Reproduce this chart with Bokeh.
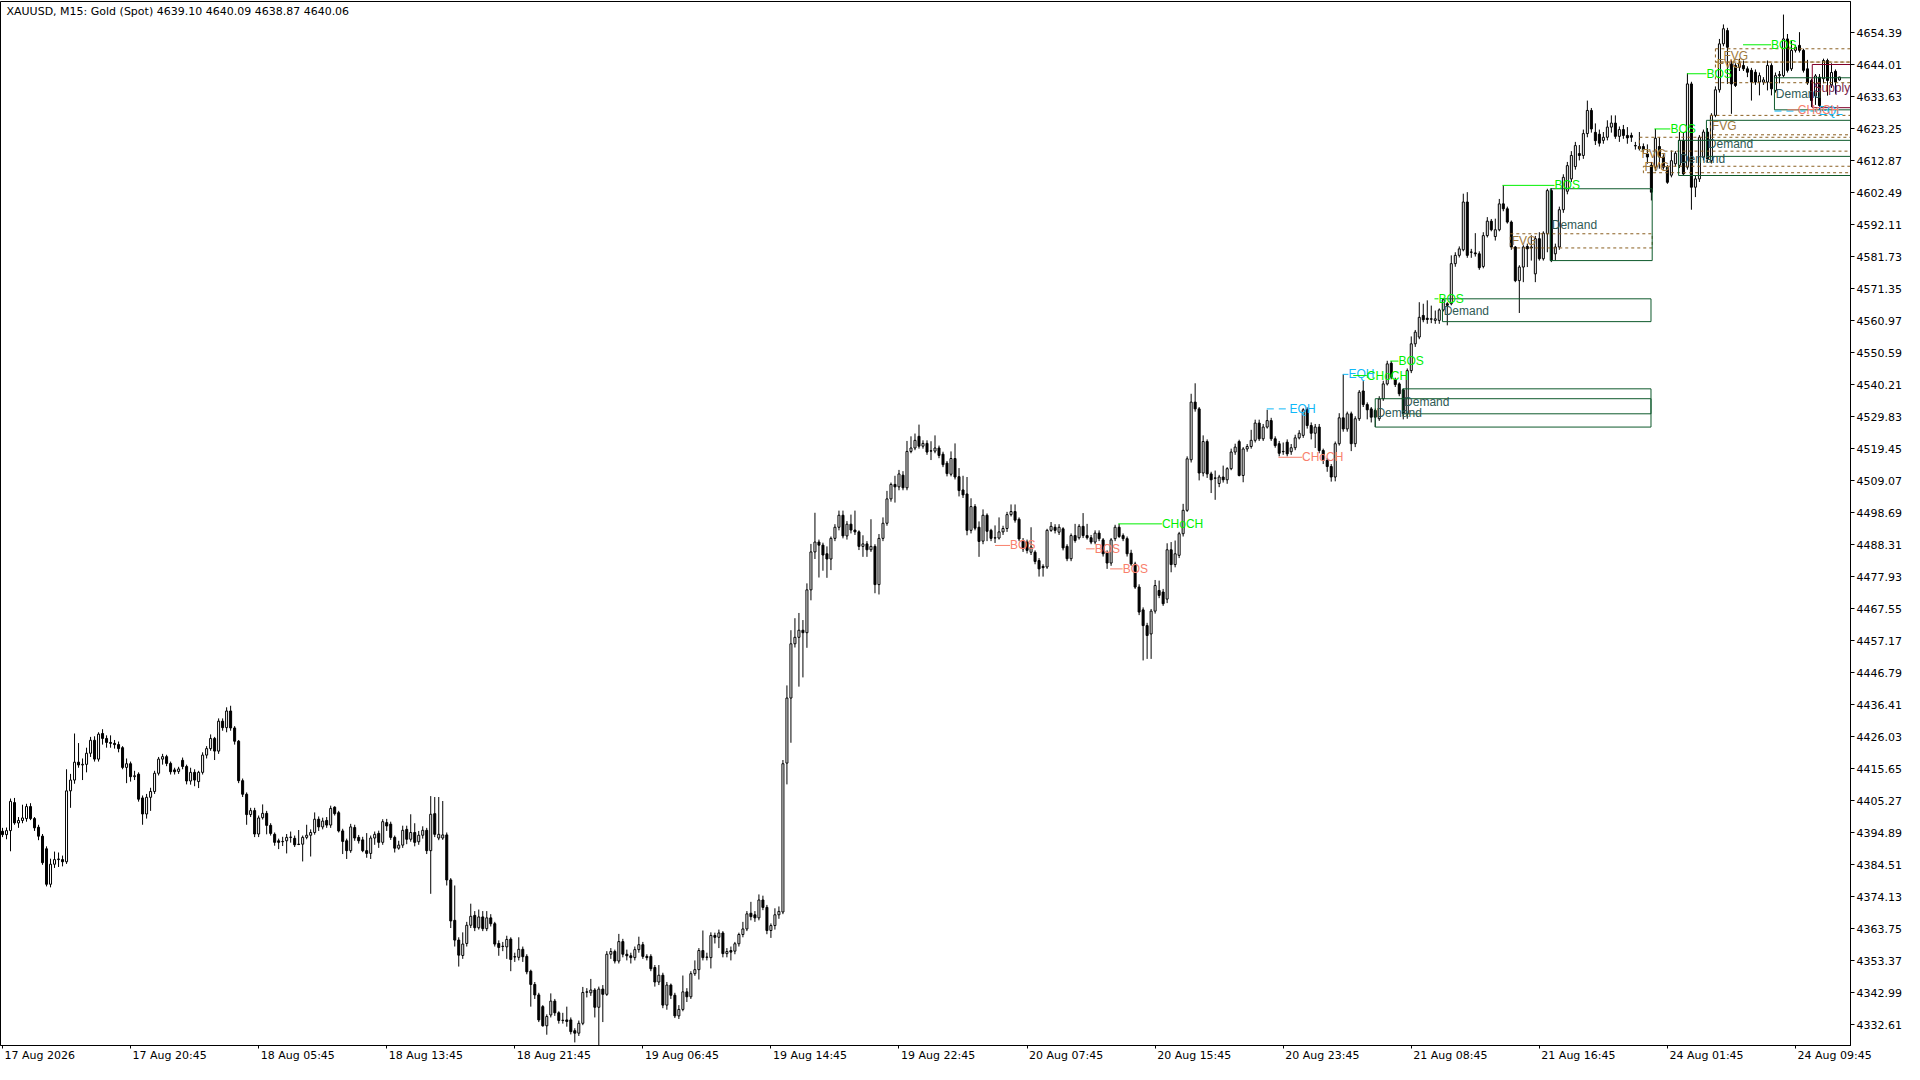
from bokeh.plotting import figure
from bokeh.models import ColumnDataSource, Range1d, FixedTicker, PrintfTickFormatter, CustomJSTickFormatter
from bokeh.core.properties import value
from bokeh.embed import file_html
from bokeh.resources import INLINE

# ---------------- data (XAUUSD M15, bar index 0..459) ----------------
opens = [
4395.4, 4394.3, 4395.6, 4404.7, 4398.1, 4398.9, 4399.5, 4403.4, 4399.5, 4396.7,
4393.8, 4389.7, 4378.2, 4384.7, 4386.2, 4386.2, 4385.5, 4408.5, 4412.0, 4417.8,
4416.9, 4417.1, 4420.7, 4424.9, 4418.8, 4427.1, 4425.5, 4424.2, 4423.9, 4423.5,
4422.5, 4416.1, 4417.3, 4413.1, 4413.9, 4406.2, 4401.0, 4406.4, 4408.3, 4414.2,
4418.8, 4419.6, 4417.4, 4415.3, 4414.8, 4418.4, 4416.4, 4411.7, 4414.5, 4411.5,
4414.5, 4420.1, 4422.2, 4425.5, 4421.4, 4431.1, 4429.0, 4434.4, 4428.9, 4424.6,
4411.8, 4407.4, 4400.8, 4402.1, 4394.5, 4399.8, 4401.2, 4397.3, 4394.4, 4392.3,
4392.0, 4392.3, 4393.4, 4393.1, 4391.2, 4391.2, 4393.4, 4394.1, 4395.0, 4399.3,
4396.8, 4398.9, 4397.4, 4403.2, 4401.4, 4395.5, 4392.3, 4389.1, 4396.6, 4393.4,
4392.6, 4389.1, 4388.2, 4393.2, 4394.7, 4391.8, 4398.2, 4397.7, 4393.4, 4389.9,
4390.9, 4396.0, 4392.8, 4395.0, 4392.0, 4394.1, 4395.7, 4389.1, 4401.1, 4393.2,
4393.2, 4394.2, 4379.6, 4366.5, 4360.1, 4355.1, 4359.0, 4364.9, 4368.1, 4364.1,
4367.6, 4363.8, 4367.3, 4365.4, 4359.0, 4358.1, 4357.9, 4360.4, 4354.7, 4354.5,
4357.1, 4354.8, 4350.0, 4345.7, 4342.3, 4338.5, 4332.3, 4335.8, 4340.3, 4336.5,
4334.0, 4334.2, 4334.2, 4330.7, 4329.9, 4333.1, 4343.3, 4343.0, 4343.9, 4338.3,
4344.2, 4342.5, 4355.5, 4356.4, 4353.3, 4359.6, 4355.5, 4355.0, 4354.4, 4357.0,
4358.6, 4354.8, 4354.8, 4351.2, 4346.5, 4348.7, 4339.0, 4345.5, 4342.2, 4335.5,
4337.6, 4343.3, 4341.7, 4349.2, 4350.5, 4356.7, 4354.5, 4354.4, 4361.6, 4361.0,
4362.4, 4355.7, 4356.7, 4356.5, 4358.9, 4361.9, 4363.7, 4368.8, 4368.3, 4367.3,
4373.1, 4370.7, 4363.2, 4364.8, 4368.3, 4369.2, 4417.5, 4438.6, 4456.2, 4458.3,
4460.6, 4459.8, 4473.7, 4486.0, 4489.2, 4488.2, 4485.4, 4483.7, 4490.4, 4494.0,
4497.9, 4491.2, 4495.0, 4493.1, 4492.5, 4487.8, 4488.6, 4486.7, 4487.8, 4475.4,
4490.4, 4495.3, 4503.2, 4507.9, 4507.1, 4510.9, 4506.8, 4518.6, 4519.7, 4523.5,
4520.3, 4521.2, 4518.8, 4518.7, 4519.7, 4517.7, 4514.8, 4511.2, 4516.3, 4510.4,
4506.1, 4504.8, 4493.0, 4500.7, 4494.0, 4489.5, 4497.9, 4493.0, 4490.5, 4490.5,
4492.5, 4493.6, 4498.1, 4499.1, 4496.6, 4489.7, 4489.2, 4485.9, 4485.9, 4483.2,
4481.3, 4481.1, 4493.0, 4494.0, 4492.4, 4493.5, 4487.8, 4483.8, 4491.3, 4490.6,
4494.3, 4491.3, 4490.6, 4489.2, 4492.1, 4489.9, 4485.6, 4482.4, 4490.3, 4494.0,
4491.3, 4490.3, 4485.6, 4482.1, 4474.6, 4467.2, 4462.1, 4459.4, 4466.8, 4473.5,
4473.0, 4470.7, 4486.7, 4481.9, 4484.9, 4491.9, 4499.5, 4515.9, 4534.6, 4532.4,
4511.6, 4521.8, 4511.3, 4510.0, 4508.2, 4510.3, 4509.4, 4513.0, 4518.4, 4521.8,
4510.8, 4519.4, 4520.2, 4522.2, 4527.8, 4522.7, 4526.5, 4528.6, 4522.7, 4521.1,
4518.6, 4521.6, 4518.5, 4519.8, 4523.0, 4523.8, 4532.1, 4527.0, 4524.5, 4526.5,
4518.9, 4515.7, 4513.7, 4510.3, 4521.1, 4529.5, 4525.9, 4530.8, 4521.1, 4529.2,
4538.2, 4533.8, 4532.4, 4531.9, 4529.2, 4535.7, 4540.5, 4547.2, 4541.8, 4540.5,
4538.6, 4530.8, 4544.8, 4553.5, 4555.7, 4562.7, 4561.8, 4561.6, 4561.1, 4561.1,
4564.5, 4566.5, 4566.5, 4579.5, 4582.2, 4584.0, 4599.5, 4583.3, 4583.0, 4582.7,
4578.6, 4588.6, 4593.3, 4588.3, 4590.5, 4598.9, 4597.3, 4593.0, 4584.9, 4574.0,
4578.4, 4585.1, 4584.9, 4576.2, 4587.6, 4581.1, 4589.2, 4603.2, 4582.7, 4584.9,
4597.0, 4603.0, 4607.0, 4611.0, 4615.2, 4614.6, 4621.7, 4629.2, 4622.1, 4621.5,
4619.5, 4620.5, 4623.8, 4625.1, 4620.8, 4623.0, 4621.1, 4621.1, 4617.8, 4617.5,
4617.5, 4615.1, 4611.4, 4610.8, 4617.5, 4614.1, 4610.8, 4608.2, 4611.9, 4611.4,
4619.5, 4610.8, 4637.8, 4604.3, 4607.0, 4614.0, 4622.2, 4612.9, 4627.6, 4635.9,
4650.8, 4655.1, 4644.3, 4643.8, 4643.2, 4643.8, 4642.7, 4642.2, 4641.6, 4638.4,
4638.4, 4638.4, 4643.8, 4635.7, 4640.5, 4640.5, 4652.4, 4642.7, 4648.7, 4650.3,
4648.7, 4642.7, 4638.9, 4633.9, 4640.0, 4639.5, 4645.4, 4637.5, 4641.9, 4639.10]

highs = [
4396.5, 4396.6, 4406.0, 4406.2, 4400.0, 4404.0, 4404.3, 4404.5, 4400.0, 4397.5,
4394.5, 4390.5, 4386.5, 4388.8, 4388.5, 4387.5, 4415.5, 4414.0, 4427.1, 4424.0,
4419.0, 4422.5, 4426.0, 4426.2, 4427.5, 4428.5, 4426.5, 4426.5, 4425.0, 4424.5,
4423.0, 4419.0, 4418.0, 4415.0, 4414.5, 4407.0, 4407.5, 4409.5, 4415.0, 4419.5,
4420.5, 4420.2, 4418.0, 4416.0, 4416.3, 4419.3, 4417.0, 4416.0, 4415.5, 4415.0,
4421.0, 4423.0, 4426.8, 4426.0, 4432.0, 4432.0, 4435.6, 4436.1, 4429.5, 4425.0,
4412.5, 4408.0, 4403.0, 4403.0, 4400.5, 4404.1, 4402.0, 4398.0, 4395.0, 4393.0,
4393.6, 4394.5, 4395.3, 4394.0, 4395.8, 4394.0, 4397.5, 4396.0, 4401.5, 4400.2,
4399.8, 4400.0, 4403.7, 4403.5, 4402.0, 4396.2, 4393.0, 4397.8, 4397.5, 4394.2,
4393.6, 4394.8, 4394.0, 4395.3, 4395.6, 4399.3, 4399.4, 4398.5, 4394.0, 4392.3,
4397.2, 4397.2, 4400.9, 4398.0, 4395.5, 4397.0, 4396.5, 4406.8, 4406.5, 4406.5,
4405.2, 4395.0, 4380.2, 4377.8, 4361.0, 4362.6, 4366.0, 4371.9, 4369.5, 4370.0,
4369.5, 4369.5, 4368.5, 4366.0, 4360.0, 4359.5, 4361.5, 4361.0, 4356.0, 4361.0,
4358.0, 4355.5, 4350.5, 4346.5, 4343.0, 4339.0, 4336.0, 4342.8, 4341.0, 4337.0,
4336.5, 4338.5, 4335.0, 4331.5, 4334.0, 4344.9, 4344.5, 4347.5, 4344.5, 4345.0,
4345.5, 4356.5, 4357.5, 4357.0, 4362.1, 4360.5, 4357.0, 4356.0, 4358.0, 4361.2,
4359.5, 4355.5, 4355.5, 4352.0, 4352.0, 4349.5, 4346.5, 4346.0, 4343.0, 4339.0,
4348.6, 4344.5, 4350.0, 4353.5, 4357.5, 4363.2, 4356.0, 4362.6, 4362.5, 4363.5,
4363.0, 4357.5, 4358.0, 4359.5, 4362.5, 4366.0, 4369.5, 4372.5, 4369.5, 4374.9,
4374.5, 4371.5, 4365.5, 4370.4, 4371.0, 4418.5, 4442.7, 4460.6, 4464.5, 4466.2,
4463.9, 4475.8, 4488.6, 4498.7, 4490.0, 4489.0, 4487.8, 4491.0, 4495.0, 4499.4,
4499.4, 4496.0, 4498.1, 4499.4, 4493.0, 4491.4, 4489.5, 4496.6, 4488.5, 4491.8,
4497.2, 4505.8, 4508.5, 4510.7, 4512.6, 4512.2, 4522.0, 4523.5, 4524.4, 4527.3,
4522.2, 4522.2, 4521.9, 4523.8, 4520.5, 4518.5, 4515.5, 4518.6, 4521.2, 4513.2,
4510.7, 4510.3, 4503.4, 4501.5, 4495.9, 4499.8, 4498.5, 4493.5, 4494.6, 4497.2,
4494.5, 4499.0, 4501.4, 4501.4, 4497.2, 4490.5, 4490.0, 4494.0, 4486.5, 4484.0,
4482.0, 4493.5, 4495.7, 4495.0, 4495.0, 4494.0, 4488.5, 4492.0, 4495.1, 4495.0,
4498.6, 4495.1, 4491.5, 4493.0, 4493.0, 4490.5, 4486.5, 4490.5, 4494.8, 4495.1,
4492.0, 4491.0, 4486.7, 4482.8, 4475.5, 4468.0, 4463.0, 4467.5, 4476.9, 4476.7,
4474.0, 4488.8, 4489.2, 4489.7, 4492.5, 4501.6, 4517.0, 4537.3, 4540.7, 4533.0,
4523.8, 4522.5, 4512.0, 4512.4, 4511.0, 4514.0, 4513.5, 4519.5, 4521.1, 4522.4,
4520.0, 4521.0, 4525.6, 4528.9, 4528.9, 4527.5, 4532.1, 4529.5, 4523.5, 4522.0,
4521.5, 4522.5, 4521.0, 4524.0, 4525.5, 4532.6, 4532.9, 4528.0, 4527.5, 4527.5,
4519.5, 4516.5, 4514.5, 4521.8, 4531.0, 4543.6, 4531.5, 4531.5, 4530.0, 4538.5,
4541.4, 4534.5, 4533.0, 4532.5, 4536.5, 4541.5, 4548.0, 4547.9, 4542.5, 4541.0,
4539.0, 4545.5, 4555.9, 4558.0, 4567.0, 4566.5, 4567.6, 4565.9, 4564.3, 4565.0,
4568.1, 4567.0, 4582.2, 4583.2, 4585.1, 4602.2, 4602.7, 4584.3, 4589.4, 4583.5,
4589.7, 4594.6, 4594.0, 4594.1, 4600.5, 4604.9, 4598.0, 4593.5, 4585.2, 4579.0,
4585.5, 4586.0, 4588.7, 4588.5, 4589.7, 4590.0, 4603.8, 4604.0, 4586.0, 4598.0,
4608.5, 4612.5, 4616.0, 4619.0, 4618.0, 4623.0, 4632.4, 4630.0, 4625.0, 4623.0,
4622.2, 4626.0, 4627.6, 4627.6, 4624.0, 4624.5, 4623.8, 4622.0, 4619.0, 4622.2,
4618.5, 4618.2, 4612.5, 4623.2, 4620.5, 4615.0, 4611.5, 4616.2, 4616.0, 4622.2,
4622.2, 4641.3, 4638.5, 4608.0, 4621.2, 4623.0, 4623.5, 4628.3, 4637.0, 4652.4,
4657.1, 4656.0, 4645.5, 4644.5, 4646.0, 4645.4, 4643.5, 4643.0, 4642.5, 4641.5,
4640.0, 4645.4, 4644.5, 4641.5, 4642.0, 4660.3, 4654.0, 4651.9, 4650.5, 4654.6,
4649.2, 4645.6, 4639.5, 4641.0, 4641.0, 4646.0, 4646.0, 4644.5, 4642.5, 4640.09]

lows = [
4393.5, 4392.8, 4388.9, 4397.5, 4396.5, 4398.0, 4398.5, 4399.0, 4395.5, 4392.5,
4384.5, 4377.5, 4377.2, 4383.5, 4383.8, 4384.0, 4384.8, 4403.0, 4410.8, 4416.0,
4412.0, 4414.5, 4419.5, 4418.0, 4418.0, 4423.5, 4422.5, 4422.5, 4422.2, 4421.0,
4415.5, 4411.0, 4411.5, 4412.0, 4405.0, 4397.5, 4399.5, 4402.0, 4407.5, 4413.5,
4417.0, 4416.5, 4413.8, 4413.8, 4414.0, 4415.5, 4410.6, 4410.5, 4410.0, 4409.4,
4413.8, 4419.0, 4421.5, 4418.5, 4420.5, 4428.0, 4427.5, 4428.0, 4423.5, 4411.0,
4406.5, 4397.5, 4400.0, 4393.5, 4393.5, 4399.2, 4394.4, 4394.0, 4390.7, 4389.6,
4390.6, 4388.2, 4391.7, 4390.3, 4390.9, 4385.6, 4392.8, 4387.2, 4394.3, 4395.5,
4396.0, 4396.5, 4396.5, 4400.5, 4395.0, 4388.0, 4386.4, 4388.4, 4392.3, 4391.4,
4388.6, 4386.8, 4386.4, 4391.0, 4390.0, 4391.0, 4395.5, 4392.6, 4388.5, 4389.4,
4390.0, 4391.2, 4392.0, 4390.5, 4391.0, 4393.0, 4388.0, 4375.1, 4393.5, 4392.5,
4392.6, 4377.8, 4364.0, 4358.0, 4351.5, 4354.0, 4358.0, 4364.0, 4363.0, 4363.5,
4363.0, 4363.0, 4364.5, 4358.0, 4355.0, 4356.5, 4354.0, 4350.0, 4353.0, 4353.5,
4353.0, 4349.0, 4338.5, 4341.0, 4333.5, 4332.0, 4329.4, 4335.0, 4335.5, 4333.0,
4333.0, 4332.0, 4329.5, 4326.9, 4329.0, 4332.5, 4341.5, 4342.0, 4335.0, 4324.5,
4333.5, 4342.0, 4354.0, 4352.5, 4352.5, 4354.5, 4353.5, 4352.5, 4353.5, 4356.0,
4354.0, 4353.5, 4350.0, 4345.0, 4345.5, 4338.0, 4337.5, 4341.0, 4334.8, 4334.5,
4337.0, 4340.0, 4341.0, 4348.5, 4347.3, 4353.5, 4353.5, 4350.9, 4359.0, 4357.5,
4354.5, 4354.5, 4353.5, 4355.5, 4358.0, 4361.0, 4363.0, 4366.5, 4366.0, 4366.5,
4369.8, 4362.0, 4360.8, 4363.5, 4367.0, 4368.5, 4410.6, 4424.1, 4455.0, 4442.3,
4445.3, 4454.9, 4470.3, 4483.7, 4477.7, 4479.9, 4477.6, 4480.1, 4489.5, 4493.0,
4490.4, 4490.0, 4492.0, 4491.5, 4486.6, 4484.4, 4484.4, 4486.0, 4472.6, 4472.2,
4489.5, 4494.5, 4502.3, 4502.0, 4506.0, 4506.0, 4506.0, 4518.0, 4519.0, 4519.5,
4519.5, 4517.5, 4515.8, 4518.0, 4516.4, 4513.5, 4510.5, 4510.5, 4509.5, 4504.0,
4503.5, 4491.4, 4492.0, 4493.0, 4484.4, 4488.5, 4489.5, 4489.5, 4488.9, 4490.0,
4491.5, 4492.5, 4497.5, 4495.5, 4489.5, 4486.0, 4485.5, 4485.0, 4482.0, 4478.0,
4478.0, 4480.5, 4492.5, 4492.0, 4491.5, 4486.5, 4483.0, 4483.0, 4489.0, 4490.0,
4490.5, 4490.0, 4488.5, 4488.5, 4489.5, 4484.5, 4480.5, 4481.5, 4489.5, 4490.5,
4489.5, 4484.5, 4481.5, 4474.0, 4465.5, 4450.8, 4451.3, 4451.3, 4466.0, 4471.0,
4468.5, 4469.4, 4479.4, 4481.0, 4484.0, 4491.0, 4499.0, 4515.0, 4531.5, 4509.2,
4510.5, 4510.0, 4505.1, 4502.9, 4507.0, 4508.5, 4508.1, 4512.5, 4517.5, 4510.5,
4508.6, 4518.5, 4519.5, 4521.5, 4522.0, 4522.0, 4526.0, 4522.0, 4519.8, 4517.0,
4517.5, 4517.0, 4517.5, 4519.0, 4522.5, 4523.0, 4526.0, 4522.5, 4519.7, 4518.0,
4514.5, 4512.0, 4508.8, 4508.9, 4520.5, 4525.0, 4525.0, 4518.7, 4520.0, 4528.5,
4533.0, 4529.0, 4528.0, 4526.5, 4528.5, 4535.0, 4540.0, 4542.0, 4539.5, 4536.5,
4529.0, 4529.2, 4544.0, 4552.5, 4555.0, 4560.5, 4560.0, 4560.2, 4560.0, 4560.0,
4564.0, 4559.5, 4566.0, 4578.5, 4581.5, 4583.5, 4581.4, 4581.4, 4581.8, 4577.5,
4578.0, 4588.0, 4590.0, 4587.0, 4590.0, 4596.5, 4592.5, 4584.0, 4573.5, 4563.5,
4573.5, 4578.4, 4580.5, 4573.5, 4580.5, 4580.5, 4583.2, 4580.0, 4580.5, 4584.0,
4596.0, 4602.0, 4606.0, 4610.0, 4613.0, 4613.5, 4620.5, 4622.0, 4618.0, 4617.5,
4618.4, 4619.5, 4622.0, 4620.0, 4619.0, 4620.0, 4618.4, 4619.0, 4616.5, 4616.2,
4615.5, 4611.9, 4600.0, 4609.5, 4610.3, 4610.0, 4605.4, 4607.5, 4611.0, 4610.5,
4608.0, 4610.0, 4597.0, 4601.1, 4606.0, 4613.0, 4612.5, 4612.0, 4627.0, 4635.0,
4650.0, 4637.8, 4628.1, 4636.8, 4642.0, 4642.0, 4640.0, 4632.4, 4637.5, 4634.1,
4637.5, 4635.7, 4634.1, 4635.0, 4638.0, 4640.0, 4641.5, 4642.0, 4648.0, 4648.0,
4641.5, 4637.5, 4630.3, 4631.0, 4629.4, 4638.0, 4634.0, 4636.5, 4634.6, 4638.87]

closes = [
4394.3, 4395.6, 4405.1, 4398.1, 4398.9, 4399.7, 4403.4, 4399.5, 4396.5, 4393.8,
4385.2, 4378.2, 4384.7, 4386.2, 4386.4, 4385.5, 4408.5, 4412.0, 4417.8, 4416.9,
4417.1, 4420.7, 4424.9, 4418.8, 4426.9, 4425.5, 4424.2, 4423.9, 4423.5, 4422.2,
4416.1, 4417.3, 4413.1, 4413.4, 4405.8, 4401.0, 4406.4, 4408.3, 4414.2, 4418.8,
4419.6, 4417.4, 4414.7, 4414.7, 4415.6, 4416.4, 4411.7, 4414.5, 4412.0, 4414.5,
4420.1, 4422.2, 4425.5, 4421.4, 4431.1, 4429.0, 4434.4, 4428.9, 4424.6, 4411.8,
4407.4, 4400.8, 4402.1, 4394.5, 4399.7, 4401.2, 4397.3, 4394.7, 4391.8, 4391.8,
4392.1, 4393.4, 4393.5, 4391.0, 4391.1, 4393.4, 4394.1, 4395.0, 4399.3, 4396.8,
4398.7, 4397.4, 4402.8, 4401.1, 4395.5, 4392.1, 4389.1, 4396.8, 4393.2, 4392.3,
4389.1, 4388.2, 4393.2, 4394.4, 4391.8, 4398.5, 4397.1, 4393.4, 4389.9, 4390.9,
4395.7, 4392.8, 4395.0, 4391.8, 4394.1, 4395.7, 4389.1, 4400.9, 4394.4, 4394.4,
4394.2, 4379.6, 4366.3, 4360.1, 4355.2, 4358.8, 4364.9, 4367.8, 4364.1, 4367.6,
4363.8, 4367.3, 4365.4, 4358.8, 4357.7, 4358.0, 4360.3, 4353.8, 4354.6, 4357.1,
4354.7, 4349.8, 4345.7, 4342.3, 4334.2, 4332.3, 4335.3, 4340.3, 4336.5, 4334.0,
4334.1, 4333.7, 4330.4, 4329.9, 4333.1, 4343.1, 4343.2, 4343.9, 4338.3, 4344.2,
4342.5, 4355.5, 4356.4, 4353.3, 4359.6, 4355.5, 4355.0, 4354.4, 4357.0, 4358.6,
4354.8, 4354.4, 4350.8, 4346.5, 4348.7, 4339.0, 4345.5, 4342.2, 4335.5, 4337.6,
4343.3, 4341.7, 4349.2, 4350.5, 4356.7, 4354.4, 4354.6, 4361.6, 4361.0, 4362.4,
4355.7, 4356.4, 4356.2, 4358.9, 4361.9, 4363.7, 4368.6, 4367.7, 4367.3, 4373.1,
4370.7, 4363.2, 4364.8, 4368.3, 4369.4, 4417.3, 4438.6, 4456.2, 4458.3, 4460.6,
4459.8, 4473.7, 4486.0, 4489.2, 4488.2, 4485.0, 4483.7, 4490.4, 4494.0, 4497.9,
4491.2, 4495.0, 4493.1, 4492.5, 4487.8, 4488.6, 4486.7, 4487.8, 4475.4, 4490.4,
4495.3, 4503.2, 4507.9, 4507.1, 4511.3, 4506.8, 4518.6, 4519.7, 4522.2, 4520.3,
4521.2, 4518.4, 4518.7, 4519.7, 4517.3, 4514.3, 4511.4, 4516.3, 4510.3, 4505.9,
4504.5, 4493.0, 4500.7, 4493.7, 4489.4, 4497.9, 4492.7, 4490.4, 4490.6, 4492.5,
4493.6, 4498.1, 4499.1, 4496.3, 4490.2, 4487.0, 4486.5, 4487.6, 4482.9, 4480.5,
4480.9, 4493.0, 4494.3, 4493.0, 4494.0, 4487.3, 4483.8, 4491.3, 4489.7, 4494.3,
4491.3, 4490.6, 4489.2, 4492.1, 4490.3, 4485.4, 4482.4, 4489.9, 4494.0, 4491.0,
4490.3, 4485.4, 4482.1, 4474.6, 4466.5, 4462.1, 4458.9, 4466.8, 4475.1, 4471.9,
4469.2, 4486.7, 4481.9, 4485.4, 4491.9, 4499.5, 4516.2, 4534.6, 4532.4, 4511.6,
4521.8, 4511.3, 4509.4, 4509.9, 4510.3, 4509.4, 4513.0, 4518.4, 4520.0, 4510.8,
4519.4, 4520.2, 4522.2, 4527.8, 4522.7, 4526.5, 4528.6, 4522.7, 4520.5, 4518.0,
4518.5, 4517.8, 4519.8, 4523.0, 4524.5, 4532.1, 4527.0, 4524.5, 4526.5, 4518.9,
4515.7, 4513.7, 4510.3, 4521.1, 4529.5, 4525.9, 4530.8, 4521.1, 4529.2, 4537.8,
4533.8, 4532.1, 4529.7, 4529.7, 4535.6, 4540.5, 4547.0, 4542.7, 4540.3, 4537.3,
4530.8, 4544.8, 4553.5, 4557.3, 4562.1, 4561.3, 4561.4, 4561.5, 4561.6, 4564.5,
4567.8, 4566.0, 4579.5, 4582.2, 4584.3, 4599.5, 4582.2, 4583.2, 4582.7, 4578.2,
4588.6, 4593.3, 4590.5, 4590.5, 4598.9, 4597.3, 4593.0, 4584.9, 4574.0, 4578.4,
4584.9, 4584.3, 4584.6, 4587.6, 4581.1, 4589.4, 4603.2, 4580.5, 4584.9, 4597.0,
4607.5, 4611.3, 4614.6, 4617.8, 4614.6, 4621.7, 4629.2, 4623.2, 4619.4, 4618.6,
4620.5, 4623.8, 4625.1, 4620.8, 4623.0, 4621.1, 4620.3, 4620.5, 4617.7, 4616.8,
4616.4, 4614.1, 4602.7, 4620.2, 4614.1, 4610.8, 4605.9, 4612.9, 4615.3, 4619.5,
4608.6, 4637.8, 4604.3, 4607.0, 4620.5, 4622.2, 4613.5, 4627.6, 4635.9, 4650.8,
4655.7, 4649.7, 4637.8, 4637.3, 4644.5, 4642.7, 4641.6, 4638.4, 4638.4, 4640.5,
4639.1, 4643.8, 4636.2, 4640.5, 4640.9, 4652.4, 4642.2, 4648.7, 4649.7, 4648.7,
4642.2, 4638.1, 4632.4, 4640.4, 4630.8, 4645.4, 4638.9, 4641.5, 4638.4, 4640.06]

assert len(opens) == len(highs) == len(lows) == len(closes), (len(opens), len(highs), len(lows), len(closes))

price_ticks = [4654.39, 4644.01, 4633.63, 4623.25, 4612.87, 4602.49, 4592.11, 4581.73,
               4571.35, 4560.97, 4550.59, 4540.21, 4529.83, 4519.45, 4509.07, 4498.69,
               4488.31, 4477.93, 4467.55, 4457.17, 4446.79, 4436.41, 4426.03, 4415.65,
               4405.27, 4394.89, 4384.51, 4374.13, 4363.75, 4353.37, 4342.99, 4332.61]

time_tick_bars = [0, 32, 64, 96, 128, 160, 192, 224, 256, 288, 320, 352, 384, 416, 448]
time_tick_labels = ["17 Aug 2026", "17 Aug 20:45", "18 Aug 05:45", "18 Aug 13:45",
                    "18 Aug 21:45", "19 Aug 06:45", "19 Aug 14:45", "19 Aug 22:45",
                    "20 Aug 07:45", "20 Aug 15:45", "20 Aug 23:45", "21 Aug 08:45",
                    "21 Aug 16:45", "24 Aug 01:45", "24 Aug 09:45"]

title_text = "XAUUSD, M15:  Gold (Spot)  4639.10 4640.09 4638.87 4640.06"

# market-structure marks: line from swing bar to break bar, label after it
struct_text  = ["BOS", "BOS", "BOS", "CHoCH", "CHoCH", "EQH", "EQH", "CHoCH", "BOS", "BOS",
                "BOS", "BOS", "BOS", "BOS", "EQL", "CHoCH"]
struct_kind  = ["bear", "bear", "bear", "bull", "bear", "eq", "eq", "bull", "bull", "bull",
                "bull", "bull", "bull", "bull", "eq", "bear"]
struct_start = [248.0, 270.75, 276.75, 278.8, 318.8, 315.9, 334.9, 337.5, 346.75, 357.8,
                374.8, 412.75, 420.9, 434.9, 442.75, 446.0]
struct_end   = [251.75, 272.9, 279.9, 289.7, 324.7, 321.6, 336.3, 340.9, 348.8, 358.8,
                387.8, 416.75, 425.75, 441.9, 453.8, 448.6]
struct_price = [4488.1, 4487.0, 4480.5, 4495.1, 4516.7, 4532.4, 4543.6, 4543.2, 4547.9, 4568.1,
                4604.9, 4623.2, 4641.1, 4650.5, 4629.0, 4629.4]

# zones: demand / FVG / supply rectangles
zone_kind   = ["demand", "demand", "demand", "demand", "demand", "demand", "demand",
               "fvg", "fvg", "fvg", "fvg", "fvg", "fvg", "supply"]
zone_text   = ["Demand", "Demand", "Demand", "Demand", "Demand", "Demand", "Demand",
               "FVG", "FVG", "FVG", "FVG", "FVG", "FVG", "Supply"]
zone_left   = [343.0, 349.9, 359.8, 386.75, 425.75, 418.8, 442.75,
               376.75, 428.0, 428.0, 426.75, 409.0, 410.0, 452.2]
zone_right  = [411.9, 411.9, 411.9, 412.2, 462.5, 462.5, 462.5,
               412.2, 462.5, 462.5, 462.5, 462.5, 462.5, 462.5]
zone_top    = [4535.7, 4538.9, 4568.1, 4603.8, 4626.0, 4619.5, 4639.8,
               4589.2, 4649.2, 4644.9, 4627.6, 4620.5, 4611.1, 4644.1]
zone_bottom = [4526.5, 4530.8, 4560.7, 4580.5, 4614.3, 4608.1, 4629.4,
               4584.6, 4644.9, 4638.2, 4621.3, 4616.0, 4609.0, 4630.1]
zone_label_x = [343.3, 350.2, 360.1, 387.1, 426.1, 419.1, 443.1,
                377.1, 430.0, 428.3, 427.1, 409.5, 410.3, 452.5]
zone_label_y = [4531.0, 4534.6, 4564.1, 4592.1, 4618.4, 4613.6, 4634.4,
                4586.8, 4647.0, 4644.3, 4624.3, 4615.0, 4611.0, 4636.5]

# ---------------- figure ----------------
n = len(closes)
idx = list(range(n))
body_top = [max(o, c) for o, c in zip(opens, closes)]
body_bot = [min(o, c) for o, c in zip(opens, closes)]
wick_hi = [max(h, o, c) for h, o, c in zip(highs, opens, closes)]
wick_lo = [min(l, o, c) for l, o, c in zip(lows, opens, closes)]
body_fill = ["white" if c >= o else "black" for o, c in zip(opens, closes)]

src = ColumnDataSource(dict(x=idx, hi=wick_hi, lo=wick_lo, top=body_top, bot=body_bot, fill=body_fill))

y_lo, y_hi = 4325.9, 4664.54
p = figure(width=1904, height=1064, output_backend="svg", toolbar_location=None,
           x_range=Range1d(-0.5, 461.75), y_range=Range1d(y_lo, y_hi),
           y_axis_location="right", min_border_left=0, min_border_top=1,
           min_border_right=0, min_border_bottom=14)
p.grid.visible = False
p.background_fill_color = "white"
p.border_fill_color = "white"
p.outline_line_color = "black"
p.outline_line_width = 1

# y axis (right)
ya = p.yaxis[0]
ya.ticker = FixedTicker(ticks=price_ticks)
ya.formatter = PrintfTickFormatter(format="%.2f")
ya.axis_line_color = "black"
ya.major_tick_line_color = "black"
ya.major_tick_out = 4
ya.major_tick_in = 0
ya.minor_tick_out = 0
ya.minor_tick_in = 0
ya.major_label_standoff = 2
ya.major_label_text_font = "DejaVu Sans"
ya.major_label_text_font_size = "11px"
ya.major_label_text_color = "black"

# x axis: tick marks at the label bars (minor ticks), labels left-aligned after them
# (label centres shifted right by half the label width: 4 px per bar, ~74 px per label)
label_px = [70.5 if t.endswith("2026") else 74.2 for t in time_tick_labels]
label_centres = [b + (2.0 + w / 2.0) / 4.0 for b, w in zip(time_tick_bars, label_px)]
xa = p.xaxis[0]
xa.ticker = FixedTicker(ticks=label_centres, minor_ticks=time_tick_bars)
xa.formatter = CustomJSTickFormatter(args=dict(pos=label_centres, lab=time_tick_labels), code="""
let best = 0, d = 1e9;
for (let i = 0; i < pos.length; i++) {
  const dd = Math.abs(pos[i] - tick);
  if (dd < d) { d = dd; best = i; }
}
return lab[best];
""")
xa.axis_label = None
xa.axis_line_color = "black"
xa.major_tick_out = 0
xa.major_tick_in = 0
xa.minor_tick_line_color = "black"
xa.minor_tick_out = 3
xa.minor_tick_in = 0
xa.major_label_standoff = 0
xa.major_label_text_font = "DejaVu Sans"
xa.major_label_text_font_size = "11px"
xa.major_label_text_color = "black"

# candles
p.segment(x0="x", y0="hi", x1="x", y1="lo", source=src, line_color="black", line_width=1)
p.vbar(x="x", top="top", bottom="bot", width=0.5, source=src,
       fill_color="fill", line_color="black", line_width=1)

# zones
zone_line = {"demand": "#0E5A2C", "fvg": "#8A5F20", "supply": "#800028"}
zone_dash = {"demand": "solid", "fvg": "3 3", "supply": "solid"}
zone_txt_col = {"demand": "#2F5A55", "fvg": "#9E7A3E", "supply": "#7A2448"}
for k in ["fvg", "demand", "supply"]:
    sel = [i for i, z in enumerate(zone_kind) if z == k]
    p.quad(left=[zone_left[i] for i in sel], right=[zone_right[i] for i in sel],
           top=[zone_top[i] for i in sel], bottom=[zone_bottom[i] for i in sel],
           fill_color=None, line_color=zone_line[k], line_width=1, line_dash=zone_dash[k])
    p.text(x=[zone_label_x[i] for i in sel], y=[zone_label_y[i] for i in sel],
           text=[zone_text[i] for i in sel], text_color=zone_txt_col[k],
           text_font=value("Liberation Sans"), text_font_size="12px",
           text_align="left", text_baseline="middle")

# structure lines + labels
kind_col = {"bull": "#00F000", "bear": "#F8806C", "eq": "#10B8F8"}
kind_dash = {"bull": "solid", "bear": "solid", "eq": "7 5"}
for k in ["eq", "bear", "bull"]:
    sel = [i for i, s in enumerate(struct_kind) if s == k]
    p.segment(x0=[struct_start[i] for i in sel], y0=[struct_price[i] for i in sel],
              x1=[struct_end[i] for i in sel], y1=[struct_price[i] for i in sel],
              line_color=kind_col[k], line_width=1, line_dash=kind_dash[k])
    p.text(x=[struct_end[i] for i in sel], y=[struct_price[i] for i in sel],
           text=[struct_text[i] for i in sel], text_color=kind_col[k],
           text_font=value("Liberation Sans"), text_font_size="12px",
           text_align="left", text_baseline="middle")

# chart caption (top-left)
p.text(x=[1.0], y=[y_hi - 1.0], text=[title_text], text_color="black",
       text_font=value("DejaVu Sans"), text_font_size="11px",
       text_align="left", text_baseline="top")

open("out.html", "w").write(file_html(p, INLINE))
